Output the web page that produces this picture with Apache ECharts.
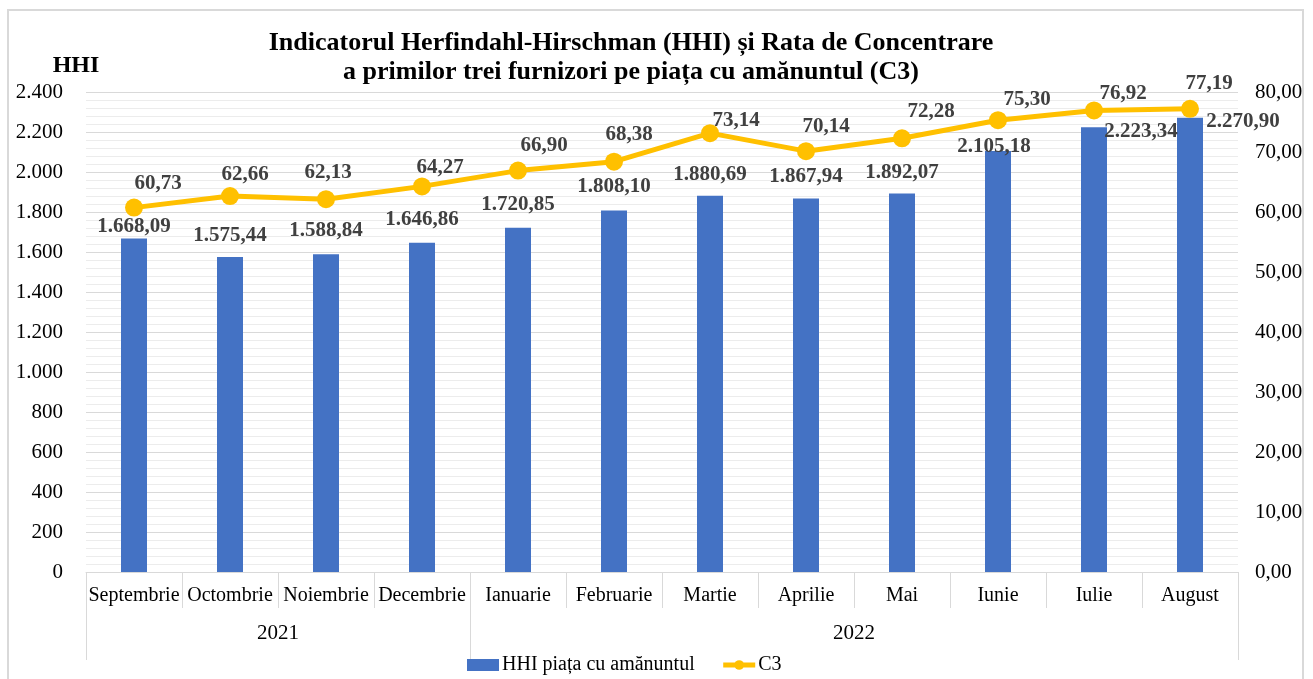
<!DOCTYPE html>
<html>
<head>
<meta charset="utf-8">
<script src="https://cdn.jsdelivr.net/npm/echarts@6/dist/echarts.min.js"></script>
<style>
  html, body { margin: 0; padding: 0; background: #ffffff; }
  #frame { position: absolute; left: 7px; top: 9px; width: 1297px; height: 700px; border: 2px solid #d9d9d9; box-sizing: border-box; }
  #chart { position: absolute; left: 0; top: 0; width: 1313px; height: 679px; }
</style>
</head>
<body>
<div id="frame"></div>
<div id="chart"></div>
<script>
// ---- data ----
const months = ['Septembrie', 'Octombrie', 'Noiembrie', 'Decembrie', 'Ianuarie', 'Februarie', 'Martie', 'Aprilie', 'Mai', 'Iunie', 'Iulie', 'August'];
const years = ['2021', '2022'];
const monthsPerYear = [4, 8];
const hhi = [1668.09, 1575.44, 1588.84, 1646.86, 1720.85, 1808.10, 1880.69, 1867.94, 1892.07, 2105.18, 2223.34, 2270.90];
const c3 = [60.73, 62.66, 62.13, 64.27, 66.90, 68.38, 73.14, 70.14, 72.28, 75.30, 76.92, 77.19];
const hhiAxis = { min: 0, max: 2400, interval: 200 };
const c3Axis = { min: 0, max: 80, interval: 10 };
const titleLines = ['Indicatorul Herfindahl-Hirschman (HHI) și Rata de Concentrare', 'a primilor trei furnizori pe piața cu amănuntul (C3)'];
const seriesNames = ['HHI piața cu amănuntul', 'C3'];

// ---- label nudges (layout only) ----
const barLabelOffsets = [[0, 12], [0, 2], [0, 0], [0, 0], [0, 0], [0, 0], [0, 2], [0, 2], [0, 2], [-4, 19], [47, 28], [53, 27]];
const lineLabelOffsets = [[24, 0], [15, 3], [2, -2], [18, 6], [26, -1], [15, -3], [26, 12], [20, 0], [29, -2], [29, 4], [29, 8], [19, -1]];

function fmt(v, dec) {
  const s = v.toFixed(dec);
  const parts = s.split('.');
  const intPart = parts[0].replace(/\B(?=(\d{3})+(?!\d))/g, '.');
  return parts.length > 1 ? intPart + ',' + parts[1] : intPart;
}

// year bands on a 0..N value scale
const boundaries = [0];
const centers = [];
monthsPerYear.forEach((n) => {
  const start = boundaries[boundaries.length - 1];
  centers.push(start + n / 2);
  boundaries.push(start + n);
});

const FONT = '"Liberation Serif", "Times New Roman", serif';
const GRID_COLOR = '#d9d9d9';
const LABEL_COLOR = '#404040';
const BAR_COLOR = '#4472C4';
const LINE_COLOR = '#FFC000';

const chart = echarts.init(document.getElementById('chart'), null, { renderer: 'canvas' });

const option = {
  animation: false,
  backgroundColor: 'transparent',
  textStyle: { fontFamily: FONT },
  title: {
    text: titleLines.join('\n'),
    left: 626,
    top: 24,
    textAlign: 'center',
    textStyle: { fontFamily: FONT, fontWeight: 'bold', fontSize: 26, lineHeight: 29, color: '#000' }
  },
  legend: {
    data: [
      { name: seriesNames[0], icon: 'rect', itemStyle: { color: BAR_COLOR } },
      { name: seriesNames[1], itemStyle: { color: LINE_COLOR }, lineStyle: { color: LINE_COLOR, width: 5 } }
    ],
    left: 462,
    top: 650,
    itemWidth: 32,
    itemHeight: 12,
    itemGap: 26,
    textStyle: { fontFamily: FONT, fontSize: 20, color: '#000', padding: [0, 0, 0, -2] }
  },
  grid: { left: 86, right: 75, top: 92, bottom: 107, containLabel: false, outerBoundsMode: 'none' },
  xAxis: [
    {
      type: 'category',
      data: months,
      position: 'bottom',
      boundaryGap: true,
      axisLine: { show: true, lineStyle: { color: GRID_COLOR, width: 1 } },
      axisTick: { show: true, interval: 0, length: 36, lineStyle: { color: GRID_COLOR, width: 1 } },
      axisLabel: { interval: 0, margin: 14, color: '#000', fontFamily: FONT, fontSize: 20 },
      splitLine: { show: false }
    },
    {
      type: 'value',
      min: 0,
      max: months.length,
      position: 'bottom',
      axisLine: { show: false },
      splitLine: { show: false },
      axisTick: { show: true, customValues: boundaries, length: 88, lineStyle: { color: GRID_COLOR, width: 1 } },
      axisLabel: {
        show: true,
        customValues: centers,
        margin: 51,
        color: '#000',
        fontFamily: FONT,
        fontSize: 21,
        formatter: function (v) {
          const i = centers.indexOf(v);
          return i >= 0 ? years[i] : '';
        }
      }
    }
  ],
  yAxis: [
    {
      type: 'value',
      min: hhiAxis.min,
      max: hhiAxis.max,
      interval: hhiAxis.interval,
      name: 'HHI',
      nameLocation: 'end',
      nameGap: 14,
      nameTextStyle: { fontFamily: FONT, fontWeight: 'bold', fontSize: 24, color: '#000', align: 'center', padding: [0, 20, 0, 0] },
      axisLine: { show: false },
      axisTick: { show: false },
      axisLabel: { margin: 23, color: '#000', fontFamily: FONT, fontSize: 21, formatter: v => fmt(v, 0) },
      splitLine: { show: true, lineStyle: { color: GRID_COLOR, width: 1 } },
      minorTick: { show: false, splitNumber: 5 },
      minorSplitLine: { show: true, lineStyle: { color: '#ececec', width: 1 } }
    },
    {
      type: 'value',
      min: c3Axis.min,
      max: c3Axis.max,
      interval: c3Axis.interval,
      position: 'right',
      axisLine: { show: false },
      axisTick: { show: false },
      axisLabel: { margin: 17, color: '#000', fontFamily: FONT, fontSize: 21, formatter: v => fmt(v, 2) },
      splitLine: { show: false }
    }
  ],
  series: [
    {
      name: seriesNames[0],
      type: 'bar',
      xAxisIndex: 0,
      yAxisIndex: 0,
      barWidth: 26,
      itemStyle: { color: BAR_COLOR },
      z: 2,
      data: hhi.map((v, i) => ({
        value: v,
        label: { offset: barLabelOffsets[i] }
      })),
      label: {
        show: true,
        position: 'top',
        distance: 13,
        color: LABEL_COLOR,
        fontFamily: FONT,
        fontWeight: 'bold',
        fontSize: 21,
        formatter: p => fmt(p.value, 2)
      }
    },
    {
      name: seriesNames[1],
      type: 'line',
      xAxisIndex: 0,
      yAxisIndex: 1,
      symbol: 'circle',
      symbolSize: 18,
      lineStyle: { color: LINE_COLOR, width: 5 },
      itemStyle: { color: LINE_COLOR },
      z: 5,
      data: c3.map((v, i) => ({
        value: v,
        label: { offset: lineLabelOffsets[i] }
      })),
      label: {
        show: true,
        position: 'top',
        distance: 5,
        color: LABEL_COLOR,
        fontFamily: FONT,
        fontWeight: 'bold',
        fontSize: 21,
        formatter: p => fmt(p.value, 2)
      }
    }
  ]
};

chart.setOption(option);
</script>
</body>
</html>
